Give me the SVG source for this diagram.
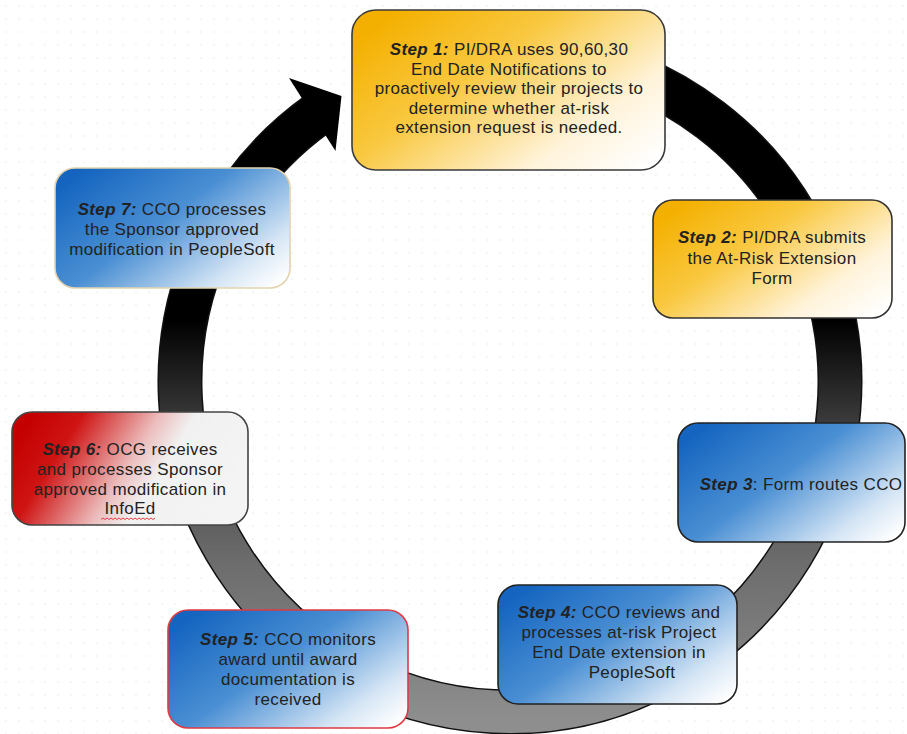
<svg xmlns="http://www.w3.org/2000/svg" width="907" height="734" viewBox="0 0 907 734">
<style>
  .box { stroke-width: 1.6; }
  .t { font-family: "Liberation Sans", Arial, sans-serif; font-size: 17px; fill: #222; text-anchor: middle; letter-spacing: 0.35px; }
  .b { font-weight: bold; font-style: italic; }
</style>
<defs>
  <pattern id="dots" width="13" height="13" patternUnits="userSpaceOnUse">
    <circle cx="6" cy="6" r="0.8" fill="#e8e8e8"/>
  </pattern>
  <linearGradient id="ring" gradientUnits="userSpaceOnUse" x1="0" y1="320" x2="0" y2="720">
    <stop offset="0" stop-color="#000"/>
    <stop offset="0.25" stop-color="#3a3a3a"/>
    <stop offset="0.6" stop-color="#6c6c6c"/>
    <stop offset="1" stop-color="#8e8e8e"/>
  </linearGradient>
  <linearGradient id="gY" x1="0" y1="0.2" x2="1" y2="0.9">
    <stop offset="0" stop-color="#f4b000"/>
    <stop offset="0.35" stop-color="#f9c840"/>
    <stop offset="0.75" stop-color="#fff3da"/>
    <stop offset="1" stop-color="#ffffff"/>
  </linearGradient>
  <linearGradient id="gB" x1="0" y1="0.2" x2="1" y2="0.9">
    <stop offset="0" stop-color="#1565c0"/>
    <stop offset="0.42" stop-color="#4a8fd3"/>
    <stop offset="0.82" stop-color="#d6e6f5"/>
    <stop offset="1" stop-color="#ffffff"/>
  </linearGradient>
  <linearGradient id="gR" x1="0" y1="0.3" x2="1" y2="0.6">
    <stop offset="0" stop-color="#c40000"/>
    <stop offset="0.2" stop-color="#cf1414"/>
    <stop offset="0.5" stop-color="#ecbdbd"/>
    <stop offset="0.64" stop-color="#f1f1f1"/>
    <stop offset="1" stop-color="#f4f4f4"/>
  </linearGradient>
</defs>
<rect width="907" height="734" fill="#ffffff"/>
<rect width="907" height="734" fill="url(#dots)"/>

<g id="connectors">
  <path d="M397.1,71.9 A330,330 0 1 1 318.4,113.3" fill="none" stroke="#111" stroke-width="45"/>
  <path d="M397.1,71.9 A330,330 0 1 1 318.4,113.3" fill="none" stroke="url(#ring)" stroke-width="42"/>
  <polygon points="289,78 341.5,96 335.5,151" fill="#000"/>
</g>

<g id="step1">
  <rect class="box" x="352" y="10" width="313" height="160" rx="24" fill="url(#gY)" stroke="#3a3a3a"/>
  <text class="t" x="509" y="55"><tspan class="b">Step 1:</tspan> PI/DRA uses 90,60,30</text>
  <text class="t" x="509" y="74.5">End Date Notifications to</text>
  <text class="t" x="509" y="94">proactively review their projects to</text>
  <text class="t" x="509" y="113.5">determine whether at-risk</text>
  <text class="t" x="509" y="133">extension request is needed.</text>
</g>

<g id="step2">
  <rect class="box" x="653" y="200" width="239" height="118" rx="20" fill="url(#gY)" stroke="#333"/>
  <text class="t" x="772" y="243"><tspan class="b">Step 2:</tspan> PI/DRA submits</text>
  <text class="t" x="772" y="264">the At-Risk Extension</text>
  <text class="t" x="772" y="284">Form</text>
</g>

<g id="step3">
  <rect class="box" x="678" y="423" width="227" height="119" rx="20" fill="url(#gB)" stroke="#222"/>
  <text class="t" x="801" y="490"><tspan class="b">Step 3</tspan>: Form routes CCO</text>
</g>

<g id="step4">
  <rect class="box" x="498" y="585" width="239" height="119" rx="20" fill="url(#gB)" stroke="#222"/>
  <text class="t" x="619" y="618"><tspan class="b">Step 4:</tspan> CCO reviews and</text>
  <text class="t" x="619" y="638">processes at-risk Project</text>
  <text class="t" x="619" y="658">End Date extension in</text>
  <text class="t" x="632" y="678">PeopleSoft</text>
</g>

<g id="step5">
  <rect class="box" x="168" y="610" width="240" height="118" rx="20" fill="url(#gB)" stroke="#e03a44"/>
  <text class="t" x="288" y="645"><tspan class="b">Step 5:</tspan> CCO monitors</text>
  <text class="t" x="288" y="665">award until award</text>
  <text class="t" x="288" y="685">documentation is</text>
  <text class="t" x="288" y="705">received</text>
</g>

<g id="step6">
  <rect class="box" x="12" y="412" width="236" height="113" rx="20" fill="url(#gR)" stroke="#444"/>
  <text class="t" x="130" y="455"><tspan class="b">Step 6:</tspan> OCG receives</text>
  <text class="t" x="130" y="475">and processes Sponsor</text>
  <text class="t" x="130" y="495">approved modification in</text>
  <text class="t" x="130" y="514">InfoEd</text>
  <path d="M101,519.5 l2,-1.5 l2,1.5 l2,-1.5 l2,1.5 l2,-1.5 l2,1.5 l2,-1.5 l2,1.5 l2,-1.5 l2,1.5 l2,-1.5 l2,1.5 l2,-1.5 l2,1.5 l2,-1.5 l2,1.5 l2,-1.5 l2,1.5 l2,-1.5 l2,1.5 l2,-1.5 l2,1.5 l2,-1.5 l2,1.5 l2,-1.5 l2,1.5 l2,-1.5" fill="none" stroke="#e04040" stroke-width="1"/>
</g>

<g id="step7">
  <rect class="box" x="55" y="168" width="235" height="120" rx="20" fill="url(#gB)" stroke="#e3d3ae"/>
  <text class="t" x="172" y="215"><tspan class="b">Step 7:</tspan> CCO processes</text>
  <text class="t" x="172" y="235">the Sponsor approved</text>
  <text class="t" x="172" y="255">modification in PeopleSoft</text>
</g>
</svg>
